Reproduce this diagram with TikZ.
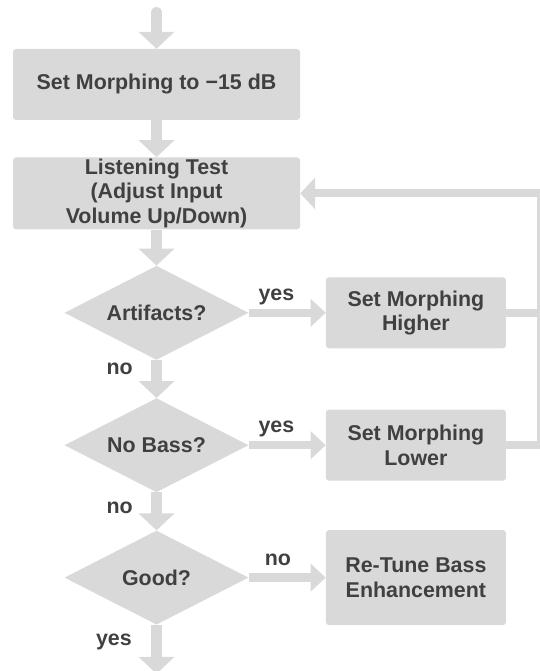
\documentclass[tikz,border=0pt]{standalone}
\usepackage{fontspec}
\setmainfont{Liberation Sans}
\usetikzlibrary{shapes.geometric, arrows.meta, positioning, backgrounds}
\definecolor{boxbg}{HTML}{D9D9D9}
\definecolor{ink}{HTML}{404040}
\tikzset{
    box/.style={rectangle, rounded corners=3pt, fill=boxbg, text=ink, align=center,
                font=\fontsize{21.4}{24.5}\selectfont\bfseries, inner sep=0pt},
    widebox/.style={box, minimum width=287pt, minimum height=72pt},
    sidebox/.style={box, minimum width=180pt, minimum height=71pt},
    decision/.style={diamond, aspect=2, fill=boxbg, text=ink, align=center, inner sep=0pt,
                     font=\fontsize{21.4}{24.5}\selectfont\bfseries,
                     minimum width=184pt, minimum height=94pt},
    ans/.style={font=\fontsize{21.4}{24.5}\selectfont\bfseries, text=ink, anchor=base, inner sep=0pt},
    downarr/.style={-{Triangle[width=35pt, length=17pt]}, line width=11.5pt, color=boxbg},
    sidearr/.style={-{Triangle[width=27pt, length=15pt]}, line width=8.5pt, color=boxbg},
    backline/.style={line width=8pt, color=boxbg, line join=miter},
    backarr/.style={backline, -{Triangle[width=31pt, length=15pt]}},
}
\begin{document}
\begin{tikzpicture}[x=1pt, y=-1pt]
  \useasboundingbox (0,0) rectangle (539,671);

  \node[widebox, minimum height=71pt] (set) at (156.5,84.5) {Set Morphing to −15 dB};
  \node[widebox, below=37pt of set] (listen) {Listening Test\\(Adjust Input\\Volume Up/Down)};

  \node[decision, below=36pt of listen] (artif) {Artifacts?};
  \node[decision, below=38pt of artif] (nobass) {No Bass?};
  \node[decision, below=38pt of nobass] (good) {Good?};

  \node[sidebox, right=77pt of artif] (higher) {Set Morphing\\Higher};
  \node[sidebox, right=77pt of nobass] (lower) {Set Morphing\\Lower};
  \node[sidebox, right=77pt of good, minimum height=95pt] (retune) {Re-Tune Bass\\Enhancement};

  \coordinate[above=36pt of set] (entry);
  \coordinate[below=49pt of good] (exit);
  \coordinate[right=35pt of lower] (corner);

  \begin{scope}[on background layer]
    \draw[downarr, line cap=round] (entry) -- (set);
    \draw[downarr] (set) -- (listen);
    \draw[downarr] (listen) -- (artif);
    \draw[downarr] (artif) -- node[ans, pos=.39, xshift=-18pt, anchor=base east]{no} (nobass);
    \draw[downarr] (nobass) -- node[ans, pos=.55, xshift=-18pt, anchor=base east]{no} (good);
    \draw[downarr] (good) -- node[ans, pos=.43, xshift=-19pt, anchor=base east]{yes} (exit);

    \draw[sidearr] (artif.east) -- node[ans, pos=.36, yshift=12.5pt]{yes} (higher.west);
    \draw[sidearr] (nobass.east) -- node[ans, pos=.36, yshift=12.5pt]{yes} (lower.west);
    \draw[sidearr] (good.east) -- node[ans, pos=.38, yshift=12.5pt]{no} (retune.west);

    \draw[backline] (higher.east) -- (higher.east -| corner);
    \draw[backarr] (lower.east) -- (corner) |- (listen.east);
  \end{scope}

\end{tikzpicture}
\end{document}
